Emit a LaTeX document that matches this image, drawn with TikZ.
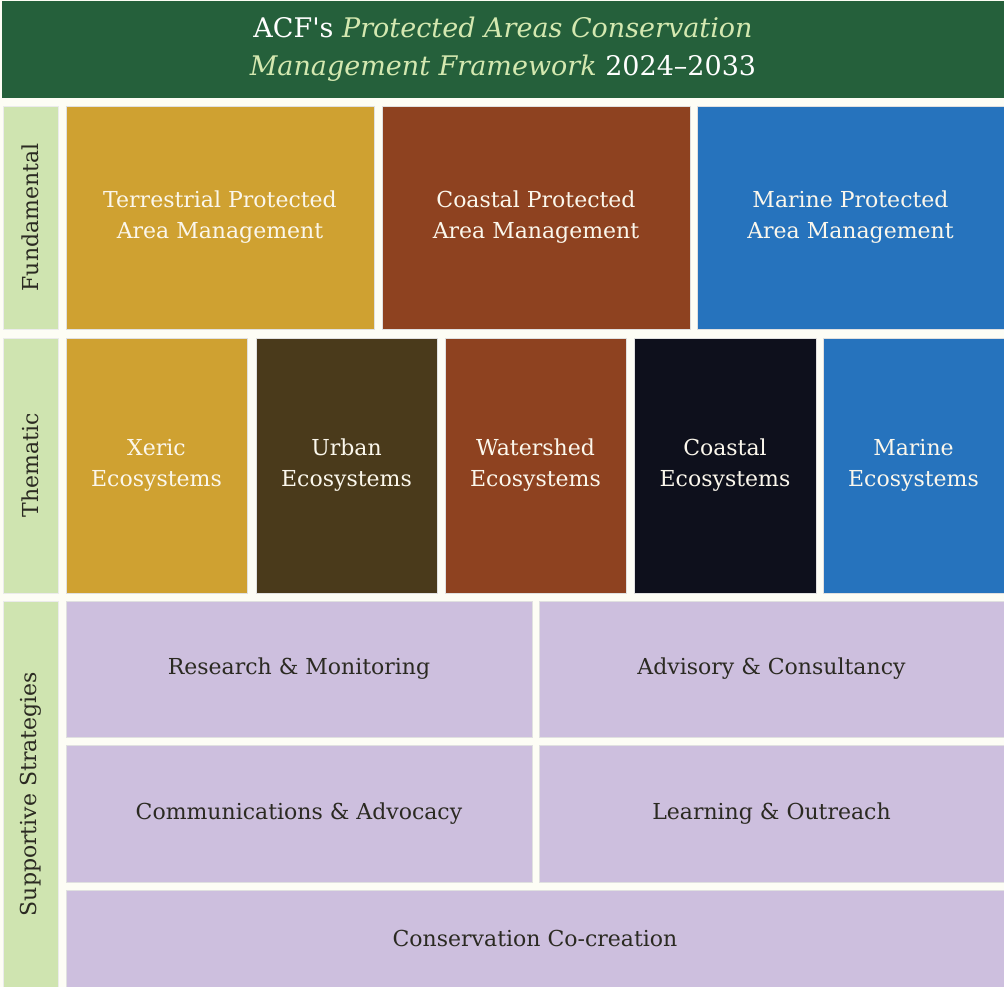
\documentclass[tikz,border=0pt]{standalone}
\usepackage{fontspec}
\setmainfont{DejaVu Serif}
\usepackage{tikz}

\definecolor{bgcream}{HTML}{FDFDF5}
\definecolor{titlegreen}{HTML}{25603B}
\definecolor{titlelight}{HTML}{D4E8B0}
\definecolor{labelgreen}{HTML}{CFE4B0}
\definecolor{ochre}{HTML}{CFA131}
\definecolor{rust}{HTML}{8E4220}
\definecolor{seablue}{HTML}{2673BD}
\definecolor{darkbrown}{HTML}{4A3A1B}
\definecolor{nightblue}{HTML}{0E101C}
\definecolor{lavender}{HTML}{CDBFDE}
\definecolor{inkdark}{HTML}{2B2A22}
\definecolor{paper}{HTML}{FBF7EC}

\begin{document}
\begin{tikzpicture}[x=1pt, y=-1pt,
  cell/.style={draw=black!12, line width=0.4pt, inner sep=0pt, align=center,
    text=paper, font=\fontsize{22}{31}\selectfont},
  softcell/.style={cell, fill=lavender, text=inkdark},
  rowlabel/.style={draw=black!8, line width=0.4pt, fill=labelgreen, rotate=90,
    inner sep=0pt, minimum height=55pt, text=inkdark,
    font=\fontsize{22}{24}\selectfont}]

\useasboundingbox [fill=bgcream] (0,0) rectangle (1004,987);

\node [fill=titlegreen, minimum width=1002pt, minimum height=97pt, inner sep=0pt,
  align=center, text=white, font=\fontsize{27}{38}\selectfont] (title) at (503,49.5)
  {ACF\textquotesingle s \textcolor{titlelight}{\itshape Protected Areas Conservation}\\
   \textcolor{titlelight}{\itshape Management Framework} 2024--2033};

\node [rowlabel, minimum width=223pt] (fundamental) at (30.5,217.5) {Fundamental};
\node [rowlabel, minimum width=255pt] (thematic) at (30.5,465.5) {Thematic};
\node [rowlabel, minimum width=386pt] (supportive) at (30.5,794) {Supportive Strategies};

\node [cell, fill=ochre, minimum width=308pt, minimum height=223pt] (terrestrial) at (220,217.5) {Terrestrial Protected\\Area Management};
\node [cell, fill=rust, minimum width=308pt, minimum height=223pt] (coastalpa) at (536,217.5) {Coastal Protected\\Area Management};
\node [cell, fill=seablue, minimum width=307pt, minimum height=223pt] (marinepa) at (850.5,217.5) {Marine Protected\\Area Management};

\node [cell, fill=ochre, minimum width=181pt, minimum height=255pt] (xeric) at (156.5,465.5) {Xeric\\Ecosystems};
\node [cell, fill=darkbrown, minimum width=181pt, minimum height=255pt] (urban) at (346.5,465.5) {Urban\\Ecosystems};
\node [cell, fill=rust, minimum width=181pt, minimum height=255pt] (watershed) at (535.5,465.5) {Watershed\\Ecosystems};
\node [cell, fill=nightblue, minimum width=182pt, minimum height=255pt] (coastaleco) at (725,465.5) {Coastal\\Ecosystems};
\node [cell, fill=seablue, minimum width=181pt, minimum height=255pt] (marineeco) at (913.5,465.5) {Marine\\Ecosystems};

\node [softcell, minimum width=466pt, minimum height=136pt] (research) at (299,669) {Research \& Monitoring};
\node [softcell, minimum width=465pt, minimum height=136pt] (advisory) at (771.5,669) {Advisory \& Consultancy};
\node [softcell, minimum width=466pt, minimum height=137pt] (communications) at (299,813.5) {Communications \& Advocacy};
\node [softcell, minimum width=465pt, minimum height=137pt] (learning) at (771.5,813.5) {Learning \& Outreach};
\node [softcell, minimum width=938pt, minimum height=97pt] (cocreation) at (535,938.5) {Conservation Co-creation};

\end{tikzpicture}
\end{document}
